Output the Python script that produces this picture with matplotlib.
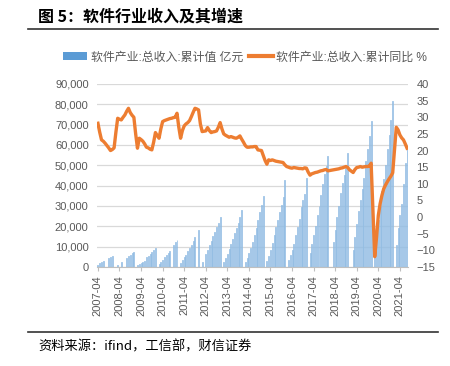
import numpy as np
import pandas as pd
import matplotlib
matplotlib.use("Agg")
import matplotlib.pyplot as plt
from matplotlib.patches import Patch
from matplotlib.lines import Line2D

plt.rcParams['font.family'] = ['Liberation Sans', 'Noto Sans CJK SC', 'DejaVu Sans']
nan = np.nan

# 软件产业:总收入:累计值 (亿元), per year, Jan..Dec (2007 from Apr, 2021 to Aug)
rev_2007 = [1150, 1970, 2460, 2790, nan, nan, 4430, 4920, 5570]
rev_2008 = [nan, nan, 1150, nan, 2600, nan, nan, 4430, 5250, 6070, 6900, 7400]
rev_2009 = [nan, 800, 1480, 1970, 2460, 3100, 4750, 5570, 6400, 7380, 8520, 9340]
rev_2010 = [nan, 1500, 2600, 3600, 4700, 6000, 7000, 8000, nan, 10600, 12100, 13400]
rev_2011 = [nan, 2000, 3400, 4700, 6100, 7800, 9200, 10800, 12600, 14700, nan, 18400]
rev_2012 = [nan, 2600, nan, 6600, 8500, 11000, 12800, 15000, 17300, 19500, 21800, 24800]
rev_2013 = [nan, 2500, 4300, 6600, 9000, 11500, 14000, 16500, 19000, 21500, 24500, 27900]
rev_2014 = [nan, 2500, 4500, 7000, 9500, 12500, 15500, 19000, 23000, 27000, 30500, 35000]
rev_2015 = [nan, 3000, 5500, 8500, 12000, 15500, 19500, 23000, 27000, 30500, 34500, 42900]
rev_2016 = [nan, 3500, 6000, 8500, 11500, 15500, 19700, 23800, 29600, 33000, 36100, 43600]
rev_2017 = [nan, 7000, 11500, 15800, 20200, 25600, 30000, 35500, 41000, 45500, 49500, 54700]
rev_2018 = [nan, nan, 12500, 18000, 24600, 30000, 36300, 41200, 45300, 48500, 56000, nan]
rev_2019 = [nan, 8400, 14900, 21000, 27300, 33000, 38500, 44000, 52000, 58000, 64500, 71600]
rev_2020 = [nan, 8000, 16000, 23000, 29500, 37500, 43500, 50000, 58000, 65000, 72500, 81400]
rev_2021 = [nan, 11000, 19000, 25600, 31000, 41000, 51000, 58500]

# 软件产业:总收入:累计同比 (%)
yoy_2007 = [28.2, 25.5, 23.2, 22.8, 22.2, 21.5, 20.8, 20.0, 20.3]
yoy_2008 = [20.8, 25.5, 29.7, 29.4, 29.2, 30.0, 30.7, 31.8, 32.7, 31.4, 30.6, 30.0]
yoy_2009 = [25.0, 20.7, 23.7, 23.3, 22.8, 22.0, 21.0, 20.8, 20.4, 20.2, 22.5, 25.4]
yoy_2010 = [24.5, 23.7, 26.5, 28.7, 29.0, 29.2, 29.4, 29.6, 29.7, 29.9, 30.0, 31.2]
yoy_2011 = [27.0, 23.7, 26.0, 27.4, 28.0, 28.4, 29.0, 30.2, 31.5, 32.7, 32.5, 32.2]
yoy_2012 = [28.0, 25.7, 25.8, 25.9, 26.9, 26.0, 25.4, 25.6, 25.7, 25.9, 27.0, 28.4]
yoy_2013 = [26.5, 25.0, 24.6, 24.3, 24.0, 24.2, 24.0, 23.8, 23.7, 24.0, 24.4, 23.4]
yoy_2014 = [22.5, 21.5, 21.0, 21.0, 21.1, 21.1, 21.2, 21.2, 20.2, 20.1, 20.0, 18.5]
yoy_2015 = [17.0, 15.9, 17.2, 17.0, 17.2, 17.0, 16.8, 16.7, 16.6, 16.5, 16.4, 15.7]
yoy_2016 = [15.2, 15.0, 14.8, 14.7, 14.9, 14.8, 14.7, 14.6, 14.6, 14.5, 14.8, 14.7]
yoy_2017 = [13.5, 12.6, 13.0, 13.2, 13.4, 13.5, 13.7, 13.9, 14.0, 14.2, 14.3, 13.9]
yoy_2018 = [14.0, 14.1, 14.2, 14.3, 14.4, 14.5, 14.7, 14.8, 15.0, 15.2, 14.9, 14.2]
yoy_2019 = [13.8, 13.4, 14.3, 14.9, 15.0, 15.2, 15.0, 15.1, 15.2, 15.2, 15.3, 16.2]
yoy_2020 = [nan, -11.9, -6.2, 0.5, 4.0, 6.5, 8.5, 9.6, 10.6, 11.5, 12.3, 13.3]
yoy_2021 = [nan, 27.0, 26.2, 24.7, 23.8, 23.2, 22.0, 20.7]

months = pd.period_range("2007-04", "2021-08", freq="M")
labels = [p.strftime("%Y-%m") for p in months]

rev = np.array(rev_2007 + rev_2008 + rev_2009 + rev_2010 + rev_2011 + rev_2012 + rev_2013
               + rev_2014 + rev_2015 + rev_2016 + rev_2017 + rev_2018 + rev_2019 + rev_2020
               + rev_2021, dtype=float)
yoy = np.array(yoy_2007 + yoy_2008 + yoy_2009 + yoy_2010 + yoy_2011 + yoy_2012 + yoy_2013
               + yoy_2014 + yoy_2015 + yoy_2016 + yoy_2017 + yoy_2018 + yoy_2019 + yoy_2020
               + yoy_2021, dtype=float)
x = np.arange(len(labels))

fig = plt.figure(figsize=(4.5, 3.66), dpi=100)
ax = fig.add_axes([0.2156, 0.2705, 0.691, 0.50])

gray = '#595959'
ax.bar(x, rev, width=0.55, color='#d4e5f5', edgecolor='#7eb0de', linewidth=0.45, zorder=2)
ax.set_ylim(0, 90000)
ax.set_yticks(np.arange(0, 90001, 10000))
ax.set_yticklabels([f"{v:,}" for v in range(0, 90001, 10000)])
ax.grid(axis='y', color='#d9d9d9', linewidth=0.9, zorder=0)
ax.set_axisbelow(True)
ax.set_xlim(-0.5, len(x) - 0.5)
tick_pos = x[::12]
ax.set_xticks(tick_pos)
ax.set_xticklabels([labels[i] for i in tick_pos], rotation=90)
for s in ['top', 'left', 'right']:
    ax.spines[s].set_visible(False)
ax.spines['bottom'].set_color('#bfbfbf')
ax.tick_params(axis='y', length=0, labelsize=8, colors=gray, pad=6)
ax.tick_params(axis='x', length=3, color='#bfbfbf', labelsize=8, labelcolor=gray, pad=3)

ax2 = ax.twinx()
ok = ~np.isnan(yoy)
ax2.plot(x[ok], yoy[ok], color='#ED7D31', linewidth=2.4, solid_joinstyle='round', zorder=3)
ax2.set_ylim(-15, 40)
ax2.set_yticks(np.arange(-15, 41, 5))
for s in ax2.spines.values():
    s.set_visible(False)
ax2.tick_params(axis='y', length=0, labelsize=8, colors=gray, pad=6)

handles = [Patch(facecolor='#5b9bd5', edgecolor='none'),
           Line2D([0], [0], color='#ED7D31', linewidth=3)]
fig.legend(handles, ['软件产业:总收入:累计值 亿元', '软件产业:总收入:累计同比 %'],
           loc='center', bbox_to_anchor=(0.545, 0.843), ncol=2, frameon=False,
           fontsize=8.6, handlelength=2.0, handletextpad=0.3, columnspacing=0.5,
           labelcolor=gray)

fig.text(0.085, 0.955, '图 5：软件行业收入及其增速', fontsize=11.5, fontweight='bold',
         family=['Noto Sans CJK SC'], va='center', ha='left')
fig.add_artist(Line2D([0.062, 0.973], [0.921, 0.921], color='#333333', linewidth=1.2))
fig.add_artist(Line2D([0.062, 0.973], [0.093, 0.093], color='#333333', linewidth=1.2))
fig.text(0.085, 0.053, '资料来源：ifind，工信部，财信证券', fontsize=9.5,
         family=['Noto Sans CJK SC'], va='center', ha='left', style='italic')

fig.savefig('out.png', dpi=100)
